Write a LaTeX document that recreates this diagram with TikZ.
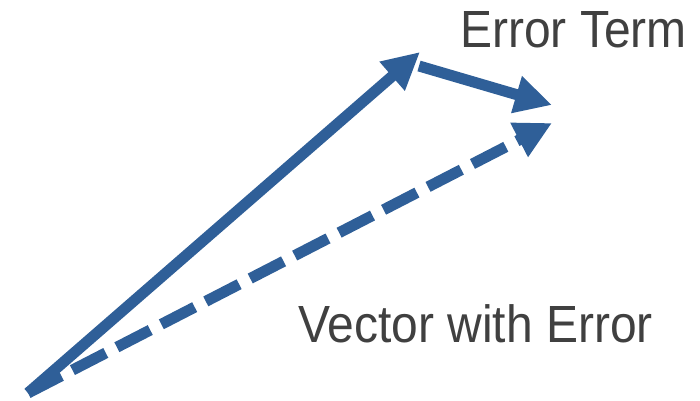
\documentclass[tikz,border=0pt]{standalone}
\usepackage{fontspec}
\setmainfont{Liberation Sans}
\usetikzlibrary{arrows.meta}
\definecolor{vecblue}{HTML}{2F5F98}
\definecolor{txtgray}{HTML}{404040}
\tikzset{
  vec/.style={draw=vecblue, line width=11pt, -{Triangle[length=37pt,width=36pt,fill=vecblue]}},
  dashvec/.style={vec, dash pattern=on 37.5pt off 12.5pt},
  lbl/.style={text=txtgray, inner sep=0pt, anchor=base west, font=\fontsize{48pt}{52pt}\selectfont, yscale=1.09, transform shape}
}
\begin{document}
\begin{tikzpicture}[x=1pt,y=1pt]
\useasboundingbox (0,0) rectangle (700,400);
\coordinate (o) at (28,7);
\coordinate (a) at (420,348);
\coordinate (s) at (419,334);
\coordinate (b) at (552,295);
\coordinate (c) at (552,277);
\draw[vec] (o) -- (a);
\draw[vec] (s) -- (b);
\draw[dashvec] (o) -- (c);
\node[lbl] (et) at (460,353) {Error Term};
\node[lbl] (vw) at (298,58) {Vector with Error};
\end{tikzpicture}
\end{document}
